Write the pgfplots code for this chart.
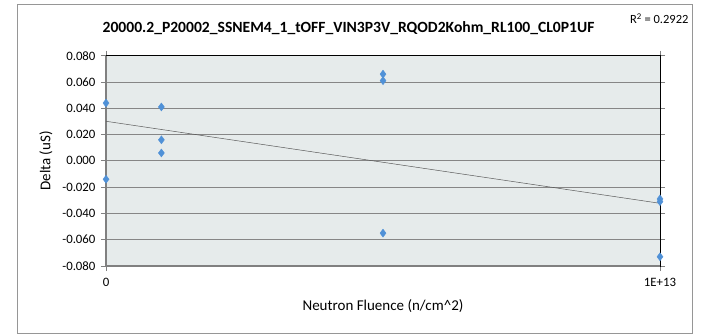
\documentclass[border=0pt]{standalone}
\usepackage{pgfplots}
\pgfplotsset{compat=1.18}
\usepackage{fontspec}
\setmainfont{Carlito}
\definecolor{bgc}{RGB}{230,235,235}
\definecolor{gridc}{RGB}{134,134,134}
\definecolor{axc}{RGB}{128,128,128}
\definecolor{mkc}{RGB}{80,145,215}
\definecolor{trc}{RGB}{90,90,90}
\definecolor{framec}{RGB}{150,150,150}
\begin{document}
\begin{tikzpicture}[x=1pt,y=1pt]
\useasboundingbox (0,0) rectangle (702,335);
\draw[framec, line width=0.8pt] (17,1.5) rectangle (692.5,330.5);
\node[font=\bfseries\fontsize{15.6}{17}\selectfont, anchor=base] at (348.5,302) {20000.2\_P20002\_SSNEM4\_1\_tOFF\_VIN3P3V\_RQOD2Kohm\_RL100\_CL0P1UF};
\node[font=\fontsize{12.5}{14}\selectfont, anchor=base east] at (692,311) {R\textsuperscript{2} = 0.2922};
\begin{axis}[
  at={(106pt,69pt)}, anchor=south west,
  scale only axis, width=554pt, height=210.3pt,
  xmin=0, xmax=10, ymin=-0.08, ymax=0.08,
  scaled y ticks=false,
  axis background/.style={fill=bgc},
  axis line style={black, line width=0.8pt},
  xtick={0,10}, xticklabels={0,1E+13},
  ytick={-0.08,-0.06,-0.04,-0.02,0,0.02,0.04,0.06,0.08},
  yticklabels={-0.080,-0.060,-0.040,-0.020,0.000,0.020,0.040,0.060,0.080},
  ymajorgrids, major grid style={gridc, line width=0.8pt},
  tick align=outside, major tick length=5pt,
  tick style={axc, line width=0.8pt},
  every tick label/.append style={font=\fontsize{12.8}{14}\selectfont},
  xticklabel style={yshift=-4pt},
  yticklabel style={xshift=-2pt},
  xlabel={Neutron Fluence (n/cm\textasciicircum 2)},
  ylabel={Delta (uS)},
  label style={font=\fontsize{15}{17}\selectfont},
  xlabel style={yshift=-6pt},
  ylabel style={yshift=3pt},
  clip=false,
]
\draw[axc, line width=1.6pt] (rel axis cs:0,1) -- (rel axis cs:0,0) -- (rel axis cs:1,0);
\draw[black, line width=1pt] (rel axis cs:0,1) -- (rel axis cs:1,1) -- (rel axis cs:1,0);
\addplot[trc, line width=0.5pt] coordinates {(0,0.0301) (10,-0.0323)};
\addplot[only marks, mark=diamond*, mark size=4pt, color=mkc] coordinates {
(0,0.044) (0,-0.014)
(1,0.041) (1,0.016) (1,0.006)
(5,0.066) (5,0.061) (5,-0.055)
(10,-0.029) (10,-0.031) (10,-0.073)
};
\end{axis}
\end{tikzpicture}
\end{document}
